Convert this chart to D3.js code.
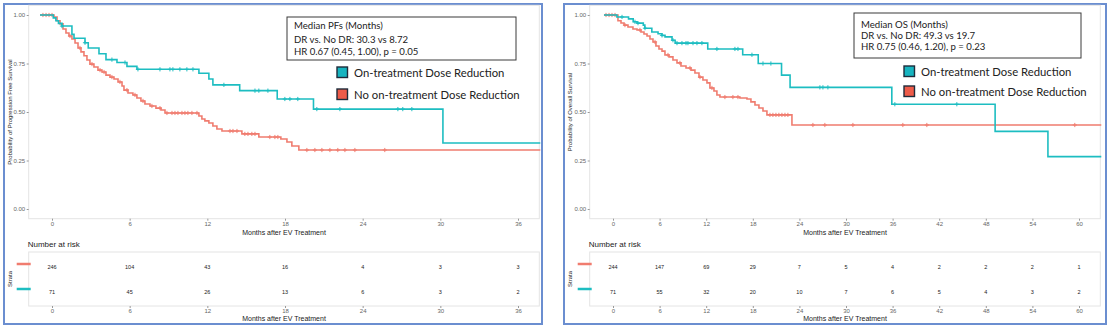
<!DOCTYPE html>
<html>
<head>
<meta charset="utf-8">
<script src="https://cdn.jsdelivr.net/npm/d3@7"></script>
<style>
  body { margin: 0; background: #fff; }
  svg { display: block; font-family: "Liberation Sans", Arial, sans-serif; }
</style>
</head>
<body>
<div id="graphic"></div>
<script>
// ---- values ----
var pfsTicks = [0, 6, 12, 18, 24, 30, 36];
var osTicks = [0, 6, 12, 18, 24, 30, 36, 42, 48, 54, 60];

// [month, survival after the step]
var pfsDR = [[-0.93, 1.0], [0.1, 0.985], [0.3, 0.97], [0.5, 0.957], [0.77, 0.943], [1.54, 0.9],
  [1.7, 0.88], [2.55, 0.857], [2.8, 0.83], [3.63, 0.8], [4.17, 0.77], [5.02, 0.755], [5.79, 0.735],
  [6.56, 0.72], [11.35, 0.7], [12.12, 0.67], [12.43, 0.64], [14.5, 0.61], [17.4, 0.567],
  [20.2, 0.515], [30.2, 0.34], [37.8, 0.34]];
var pfsNoDR = [[-0.93, 1.0], [0.15, 0.99], [0.39, 0.97], [0.62, 0.954], [0.85, 0.928], [1.08, 0.907],
  [1.31, 0.892], [1.54, 0.876], [1.78, 0.856], [2.01, 0.83], [2.24, 0.81], [2.47, 0.79], [2.7, 0.768],
  [2.93, 0.747], [3.24, 0.732], [3.55, 0.716], [3.86, 0.706], [4.17, 0.69], [4.48, 0.68], [4.79, 0.67],
  [5.1, 0.655], [5.41, 0.634], [5.56, 0.613], [5.87, 0.598], [6.25, 0.588], [6.56, 0.572],
  [6.87, 0.557], [7.18, 0.541], [7.57, 0.531], [8.03, 0.52], [8.42, 0.51], [8.73, 0.495],
  [11.35, 0.479], [11.58, 0.464], [11.81, 0.454], [12.12, 0.443], [12.43, 0.428], [12.74, 0.412],
  [13.13, 0.402], [14.67, 0.387], [15.98, 0.371], [17.68, 0.361], [18.15, 0.345], [18.53, 0.325],
  [19.07, 0.304], [37.8, 0.304]];
var pfsDRCens = [0.77, 2.55, 4.63, 5.64, 6.64, 8.34, 9.11, 9.34, 9.88, 10.42, 10.89, 13.28, 15.68,
  15.98, 16.68, 17.99, 18.38, 18.99, 20.46, 22.24, 26.72, 27.1, 27.8];
var pfsNoDRCens = [-0.7, -0.46, -0.23, 0.0, 1.39, 2.16, 3.09, 3.71, 4.02, 4.63, 5.25, 5.79, 6.41, 7.03,
  7.72, 8.34, 8.88, 9.27, 9.5, 9.73, 10.04, 10.27, 10.5, 10.81, 11.2, 13.75, 13.98, 14.29, 14.9, 15.14,
  15.44, 15.68, 16.83, 17.22, 17.45, 19.69, 20.31, 20.85, 21.47, 22.08, 22.63, 23.4, 25.71];

var osDR = [[-1.16, 1.0], [0.5, 0.99], [2.0, 0.98], [2.6, 0.965], [3.1, 0.958], [3.9, 0.948],
  [4.1, 0.932], [5.0, 0.912], [5.8, 0.903], [6.3, 0.895], [6.7, 0.887], [7.6, 0.87], [8.0, 0.855],
  [12.2, 0.825], [16.7, 0.795], [18.7, 0.75], [21.7, 0.69], [22.8, 0.627], [35.9, 0.54],
  [49.2, 0.4], [56.0, 0.27], [63, 0.27]];
var osNoDR = [[-1.16, 1.0], [0.64, 0.97], [1.03, 0.959], [1.42, 0.948], [1.93, 0.938], [2.57, 0.928],
  [3.09, 0.923], [3.6, 0.912], [3.99, 0.902], [4.38, 0.892], [4.76, 0.876], [5.15, 0.861], [5.53, 0.84],
  [5.92, 0.825], [6.31, 0.814], [6.69, 0.794], [7.21, 0.784], [7.72, 0.768], [8.24, 0.753], [8.75, 0.737],
  [9.4, 0.727], [10.04, 0.716], [10.55, 0.701], [11.07, 0.68], [11.58, 0.665], [12.1, 0.65],
  [12.48, 0.624], [13.0, 0.608], [13.38, 0.588], [13.77, 0.577], [16.34, 0.572], [17.25, 0.567],
  [17.76, 0.552], [18.28, 0.536], [18.79, 0.521], [19.31, 0.505], [19.82, 0.485], [23.04, 0.433],
  [63, 0.433]];
var osDRCens = [1.16, 2.83, 3.22, 4.12, 6.31, 7.72, 8.24, 8.88, 9.4, 9.65, 10.3, 10.81, 11.45, 13.38,
  15.7, 16.09, 17.89, 19.31, 20.33, 26.64, 27.03, 27.67, 36.29, 44.27];
var osNoDRCens = [-0.9, -0.51, -0.13, 0.26, 1.54, 3.47, 5.41, 7.08, 8.62, 9.91, 11.2, 12.74, 14.41,
  15.44, 16.09, 20.21, 20.59, 20.98, 21.36, 21.75, 22.14, 22.52, 25.74, 27.28, 30.89, 37.32, 40.41, 59.46];

var pfsRiskNoDR = [246, 104, 43, 16, 4, 3, 3];
var pfsRiskDR = [71, 45, 26, 13, 6, 3, 2];
var osRiskNoDR = [244, 147, 69, 29, 7, 5, 4, 2, 2, 2, 1];
var osRiskDR = [71, 55, 32, 20, 10, 7, 6, 5, 4, 3, 2];

var legendNames = ["On-treatment Dose Reduction", "No on-treatment Dose Reduction"];
var pfsNote = ["Median PFs (Months)", "DR vs. No DR: 30.3 vs 8.72", "HR 0.67 (0.45, 1.00), p = 0.05"];
var osNote = ["Median OS (Months)", "DR vs. No DR: 49.3 vs 19.7", "HR 0.75 (0.46, 1.20), p = 0.23"];

var colDR = "#1DBDC1", colNoDR = "#F07C6F";

var svg = d3.select("#graphic").append("svg")
  .attr("width", 1114)
  .attr("height", 332);

function survAt(steps, t) {
  var s = steps[0][1];
  steps.forEach(function(p) { if (p[0] <= t) s = p[1]; });
  return s;
}

function drawPanel(c) {
  var g = svg.append("g");

  // outer blue frame
  g.append("rect")
    .attr("x", c.frame[0]).attr("y", c.frame[1])
    .attr("width", c.frame[2] - c.frame[0]).attr("height", c.frame[3] - c.frame[1])
    .attr("fill", "none").attr("stroke", "#6B8ED0").attr("stroke-width", 2);

  var x = d3.scaleLinear().domain([0, c.xmax]).range(c.xr);
  var y = d3.scaleLinear().domain([0, 1]).range([209, 15]);
  var pad = c.xmax * 0.05;
  var px0 = x(-pad), px1 = x(c.xmax + pad) - 2;

  g.append("rect")
    .attr("x", px0).attr("y", y(1.05))
    .attr("width", px1 - px0).attr("height", y(-0.05) - y(1.05))
    .attr("fill", "#fff").attr("stroke", "#E4E4E4");

  var clipId = "clip" + c.id;
  svg.append("clipPath").attr("id", clipId).append("rect")
    .attr("x", px0).attr("y", y(1.05))
    .attr("width", px1 - px0 + 1).attr("height", y(-0.05) - y(1.05));

  // axes
  var ya = g.append("g").attr("transform", "translate(" + px0 + ",0)")
    .call(d3.axisLeft(y).tickValues([0, 0.25, 0.5, 0.75, 1]).tickFormat(d3.format(".2f")).tickSize(2).tickPadding(1.5));
  var xa = g.append("g").attr("transform", "translate(0," + y(-0.05) + ")")
    .call(d3.axisBottom(x).tickValues(c.ticks).tickSize(2).tickPadding(1));
  [ya, xa].forEach(function(a) {
    a.select(".domain").remove();
    a.selectAll("line").attr("stroke", "#999");
    a.selectAll("text").attr("fill", "#666").style("font-size", "6px");
  });

  g.append("text")
    .attr("transform", "translate(" + (c.frame[0] + 7.5) + "," + y(0.5) + ") rotate(-90)")
    .attr("text-anchor", "middle").style("font-size", "6px").attr("fill", "#222")
    .text(c.ytitle);
  g.append("text")
    .attr("x", (px0 + px1) / 2).attr("y", 234.5)
    .attr("text-anchor", "middle").style("font-size", "7px").attr("fill", "#222")
    .text("Months after EV Treatment");

  // curves
  var line = d3.line()
    .x(function(d) { return x(d[0]); })
    .y(function(d) { return y(d[1]); })
    .curve(d3.curveStepAfter);
  var cg = g.append("g").attr("clip-path", "url(#" + clipId + ")");
  var series = [
    { steps: c.noDR, cens: c.noDRCens, col: colNoDR },
    { steps: c.dr, cens: c.drCens, col: colDR }
  ];
  series.forEach(function(s) {
    cg.append("path").datum(s.steps)
      .attr("d", line).attr("fill", "none")
      .attr("stroke", s.col).attr("stroke-width", 1.6);
    cg.selectAll(null).data(s.cens).enter().append("path")
      .attr("transform", function(t) { return "translate(" + x(t) + "," + y(survAt(s.steps, t)) + ")"; })
      .attr("d", "M-2.1,0H2.1M0,-2.1V2.1")
      .attr("stroke", s.col).attr("stroke-width", 1);
  });

  // median / HR box
  var b = c.box;
  g.append("rect").attr("x", b[0]).attr("y", b[1]).attr("width", b[2]).attr("height", b[3])
    .attr("fill", "#fff").attr("stroke", "#3a3a3a").attr("stroke-width", 1);
  c.note.forEach(function(t, i) {
    g.append("text").attr("x", b[0] + 7).attr("y", c.noteY[i])
      .style("font-family", "Lato, 'Open Sans', sans-serif").style("font-size", "9.6px")
      .attr("fill", "#222").text(t);
  });

  // legend
  var leg = c.leg;
  [colDR, "#EE5B49"].forEach(function(col, i) {
    g.append("rect").attr("x", leg[0]).attr("y", leg[1] + i * leg[2])
      .attr("width", 10.5).attr("height", 10.5)
      .attr("fill", i === 0 ? "#17B4C0" : col).attr("stroke", "#1E2B3A").attr("stroke-width", 1.4);
    g.append("text").attr("x", leg[0] + 17).attr("y", leg[1] + i * leg[2] + 9.6)
      .style("font-family", "Lato, 'Open Sans', sans-serif").style("font-size", "11.3px")
      .attr("fill", "#222").text(legendNames[i]);
  });

  // risk table
  g.append("text").attr("x", px0 - 1).attr("y", 247)
    .style("font-size", "8px").attr("fill", "#222").text("Number at risk");
  g.append("rect").attr("x", px0).attr("y", 252).attr("width", px1 - px0).attr("height", 54)
    .attr("fill", "#fff").attr("stroke", "#E4E4E4");
  var row = d3.scalePoint().domain(["NoDR", "DR"]).range([267, 292]);
  [["NoDR", c.riskNoDR, colNoDR], ["DR", c.riskDR, colDR]].forEach(function(r) {
    g.selectAll(null).data(r[1]).enter().append("text")
      .attr("x", function(d, i) { return x(c.ticks[i]); })
      .attr("y", row(r[0]) + 2)
      .attr("text-anchor", "middle").style("font-size", "5.5px").attr("fill", "#222")
      .text(function(d) { return d; });
    g.append("line")
      .attr("x1", px0 - 12).attr("x2", px0 + 2)
      .attr("y1", row(r[0]) - 3).attr("y2", row(r[0]) - 3)
      .attr("stroke", r[2]).attr("stroke-width", 2.5);
  });
  g.append("text")
    .attr("transform", "translate(" + (c.frame[0] + 7.5) + ",279) rotate(-90)")
    .attr("text-anchor", "middle").style("font-size", "6px").attr("fill", "#222")
    .text("Strata");
  var ra = g.append("g").attr("transform", "translate(0,306)")
    .call(d3.axisBottom(x).tickValues(c.ticks).tickSize(2).tickPadding(1));
  ra.select(".domain").remove();
  ra.selectAll("line").attr("stroke", "#999");
  ra.selectAll("text").attr("fill", "#666").style("font-size", "6px");
  g.append("text")
    .attr("x", (px0 + px1) / 2).attr("y", 320.5)
    .attr("text-anchor", "middle").style("font-size", "7px").attr("fill", "#222")
    .text("Months after EV Treatment");
}

drawPanel({
  id: "pfs", frame: [4, 4, 542, 324], xmax: 36, xr: [52, 518], ticks: pfsTicks,
  ytitle: "Probability of Progression Free Survival",
  dr: pfsDR, noDR: pfsNoDR, drCens: pfsDRCens, noDRCens: pfsNoDRCens,
  riskDR: pfsRiskDR, riskNoDR: pfsRiskNoDR,
  box: [287, 17, 229, 43], note: pfsNote, noteY: [29, 42.5, 55],
  leg: [337, 67, 22]
});

drawPanel({
  id: "os", frame: [564, 4, 1106, 324], xmax: 60, xr: [613, 1079], ticks: osTicks,
  ytitle: "Probability of Overall Survival",
  dr: osDR, noDR: osNoDR, drCens: osDRCens, noDRCens: osNoDRCens,
  riskDR: osRiskDR, riskNoDR: osRiskNoDR,
  box: [854, 13, 227, 45], note: osNote, noteY: [27.5, 38.8, 50.3],
  leg: [904, 66, 20]
});
</script>
</body>
</html>
